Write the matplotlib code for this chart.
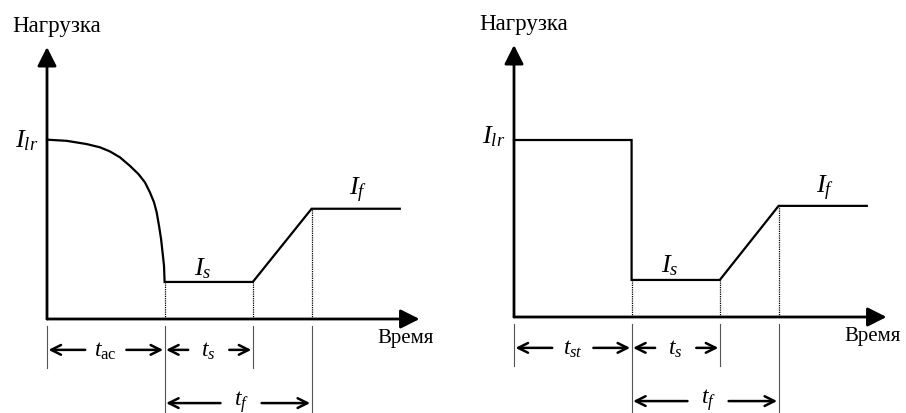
import matplotlib
matplotlib.use("Agg")
import matplotlib.pyplot as plt

plt.rcParams['font.family'] = ['Liberation Serif', 'DejaVu Serif']
plt.rcParams['mathtext.fontset'] = 'custom'
plt.rcParams['mathtext.rm'] = 'Liberation Serif'
plt.rcParams['mathtext.it'] = 'Liberation Serif:italic'

# time break points (same for both panels)
t_drop = 4.0
t_rise = 7.0
t_full = 9.0
t_end = 12.0

# left panel: gradual load reduction
curve_t = [0, 0.67, 1.35, 1.8, 2.14, 2.48, 2.82, 3.11, 3.33, 3.5, 3.64,
           3.73, 3.81, 3.88, 3.93, 3.98, 4.0]
curve_load = [6.1, 6.06, 5.95, 5.84, 5.7, 5.5, 5.21, 4.93, 4.65, 4.31, 3.97,
              3.63, 3.17, 2.72, 2.27, 1.81, 1.26]
left_is = 1.26
left_if = 3.75

# right panel: step load reduction
right_ilr = 6.02
right_is = 1.26
right_if = 3.78

labels_left = [r'$t_{\mathrm{ac}}$', r'$t_s$', r'$t_f$']
labels_right = [r'$t_{st}$', r'$t_s$', r'$t_f$']

W, H = 906, 414
scale = 29.4  # pixels per unit


def make_axes(fig, x0_px, left_px, y0_px):
    # x0_px / y0_px: origin position, pixels from left / top of the figure
    ax = fig.add_axes([left_px / W, 0, (W / 2) / W, 1])
    ax.set_xlim(-(x0_px - left_px) / scale, (left_px + W / 2 - x0_px) / scale)
    ax.set_ylim(-(H - y0_px) / scale, y0_px / scale)
    ax.axis('off')
    return ax


def arrow(ax, x1, y1, x2, y2, style, lw, ms):
    ax.annotate('', xy=(x2, y2), xytext=(x1, y1),
                arrowprops=dict(arrowstyle=style, lw=lw, color='black',
                                shrinkA=0, shrinkB=0, mutation_scale=ms))


def frame(ax, t_labels):
    # axes with arrows
    axis_style = '-|>,head_length=1.15,head_width=0.58'
    arrow(ax, 0, 0, 0, 9.25, axis_style, 2.0, 10)
    arrow(ax, 0, 0, 12.67, 0, axis_style, 2.0, 10)
    ax.text(0.33, 9.97, 'Нагрузка', fontsize=16.5, ha='center', va='center')
    ax.text(12.2, -0.63, 'Время', fontsize=15, ha='center', va='center')

    # gray extension lines below the time axis
    for x, y_low in [(0, -1.67), (t_drop, -3.5), (t_rise, -1.67), (t_full, -3.5)]:
        ax.plot([x, x], [-0.25, y_low], color='#555555', lw=0.8)

    # dimension arrows
    dim_style = '->,head_length=0.7,head_width=0.35'
    spans = [(0, t_drop, -1.05), (t_drop, t_rise, -1.05), (t_drop, t_full, -2.86)]
    for (a, b, y), lab in zip(spans, t_labels):
        c = (a + b) / 2 if lab != r'$t_f$' else (a + b) / 2 + 0.1
        g = 0.7
        arrow(ax, c - g, y, a + 0.05, y, dim_style, 1.8, 10)
        arrow(ax, c + g, y, b - 0.05, y, dim_style, 1.8, 10)
        ty = y + 0.08 if lab == r'$t_f$' else y
        ax.text(c, ty, lab, fontsize=17, ha='center', va='center')


def dotted(ax, x, y):
    ax.plot([x, x], [0, y], color='black', lw=0.9, linestyle=(0, (1, 0.8)))


fig = plt.figure(figsize=(W / 100, H / 100), dpi=100)
fig.patch.set_facecolor('white')

# ---- left panel
ax1 = make_axes(fig, 47, 0, 320)
frame(ax1, labels_left)
ax1.plot(curve_t + [t_rise, t_full, t_end],
         curve_load + [left_is, left_if, left_if],
         color='black', lw=1.6, solid_joinstyle='miter')
dotted(ax1, t_drop, left_is)
dotted(ax1, t_rise, left_is)
dotted(ax1, t_full, left_if)
ax1.text(-0.3, curve_load[0], r'$I_{lr}$', fontsize=19, ha='right', va='center')
ax1.text(5.31, 1.75, r'$I_s$', fontsize=19, ha='center', va='center')
ax1.text(10.58, 4.4, r'$I_f$', fontsize=19, ha='center', va='center')

# ---- right panel
ax2 = make_axes(fig, 514, 453, 318)
frame(ax2, labels_right)
ax2.plot([0, t_drop, t_drop, t_rise, t_full, t_end],
         [right_ilr, right_ilr, right_is, right_is, right_if, right_if],
         color='black', lw=1.6, solid_joinstyle='miter')
dotted(ax2, t_drop, right_is)
dotted(ax2, t_rise, right_is)
dotted(ax2, t_full, right_if)
ax2.text(-0.3, right_ilr + 0.15, r'$I_{lr}$', fontsize=19, ha='right', va='center')
ax2.text(5.31, 1.78, r'$I_s$', fontsize=19, ha='center', va='center')
ax2.text(10.58, 4.4, r'$I_f$', fontsize=19, ha='center', va='center')

fig.savefig('out.png', dpi=100)
